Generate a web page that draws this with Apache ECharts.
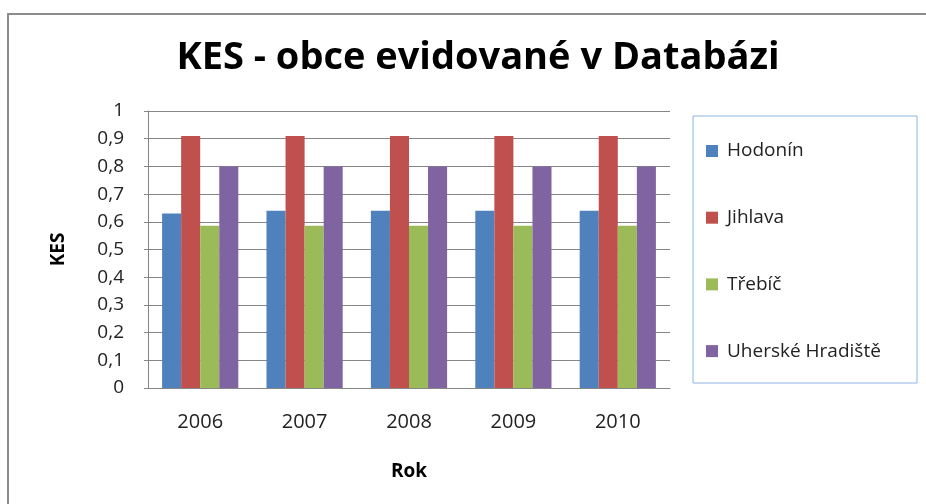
<!DOCTYPE html>
<html>
<head>
<meta charset="utf-8">
<script src="https://cdn.jsdelivr.net/npm/echarts@6/dist/echarts.min.js"></script>
<style>
  html, body { margin: 0; padding: 0; background: #fff; }
  #chart { width: 926px; height: 504px; }
</style>
</head>
<body>
<div id="chart"></div>
<script>
// data
const years = ["2006", "2007", "2008", "2009", "2010"];
const hodonin = [0.63, 0.64, 0.64, 0.64, 0.64];
const jihlava = [0.91, 0.91, 0.91, 0.91, 0.91];
const trebic = [0.586, 0.586, 0.586, 0.586, 0.586];
const uherske = [0.8, 0.8, 0.8, 0.8, 0.8];
const seriesNames = ["Hodonín", "Jihlava", "Třebíč", "Uherské Hradiště"];
const colors = ["#4f81bd", "#c0504d", "#9bbb59", "#8064a2"];

const font = "'Open Sans', Lato, sans-serif";

const chart = echarts.init(document.getElementById("chart"));

const mkBar = (name, data, color) => ({
  name: name,
  type: "bar",
  data: data,
  barGap: "0%",
  barCategoryGap: "27%",
  itemStyle: { color: color },
  animation: false
});

chart.setOption({
  animation: false,
  textStyle: { fontFamily: font },
  title: {
    text: "KES - obce evidované v Databázi",
    left: 473,
    textAlign: "center",
    top: 34,
    textStyle: { fontSize: 38, fontWeight: "bold", color: "#000", fontFamily: font }
  },
  graphic: [
    {
      type: "rect",
      shape: { x: 8, y: 14, width: 940, height: 520 },
      style: { fill: null, stroke: "#8c8c8c", lineWidth: 2 },
      silent: true
    },
    {
      type: "rect",
      shape: { x: 693, y: 116, width: 224, height: 267 },
      style: { fill: null, stroke: "#8eb4e3", lineWidth: 1 },
      silent: true
    }
  ],
  legend: {
    orient: "vertical",
    left: 694,
    top: 116,
    padding: [25, 10, 24, 12],
    itemGap: 46.7,
    itemWidth: 12,
    itemHeight: 12,
    icon: "rect",
    textStyle: { fontSize: 19, lineHeight: 20, color: "#222", fontFamily: font, padding: [0, 0, 0, 4] },
    data: seriesNames
  },
  grid: { left: 148, right: 256, top: 111, bottom: 116 },
  xAxis: {
    type: "category",
    data: years,
    name: "Rok",
    nameLocation: "middle",
    nameGap: 74,
    nameTextStyle: { fontSize: 19, fontWeight: "bold", color: "#000" },
    axisLine: { lineStyle: { color: "#868686" } },
    axisTick: { show: false },
    axisLabel: { fontSize: 20, color: "#222", margin: 24 }
  },
  yAxis: {
    type: "value",
    min: 0,
    max: 1,
    interval: 0.1,
    name: "KES",
    nameLocation: "middle",
    nameGap: 80,
    nameRotate: 90,
    nameTextStyle: { fontSize: 19, fontWeight: "bold", color: "#000" },
    axisLine: { show: true, lineStyle: { color: "#868686" } },
    axisTick: { show: true, length: 4, inside: false, lineStyle: { color: "#868686" } },
    axisLabel: {
      fontSize: 19,
      color: "#222",
      margin: 24,
      formatter: v => String(Math.round(v * 10) / 10).replace(".", ",")
    },
    splitLine: { lineStyle: { color: "#868686" } }
  },
  series: [
    mkBar(seriesNames[0], hodonin, colors[0]),
    mkBar(seriesNames[1], jihlava, colors[1]),
    mkBar(seriesNames[2], trebic, colors[2]),
    mkBar(seriesNames[3], uherske, colors[3])
  ]
});
</script>
</body>
</html>
